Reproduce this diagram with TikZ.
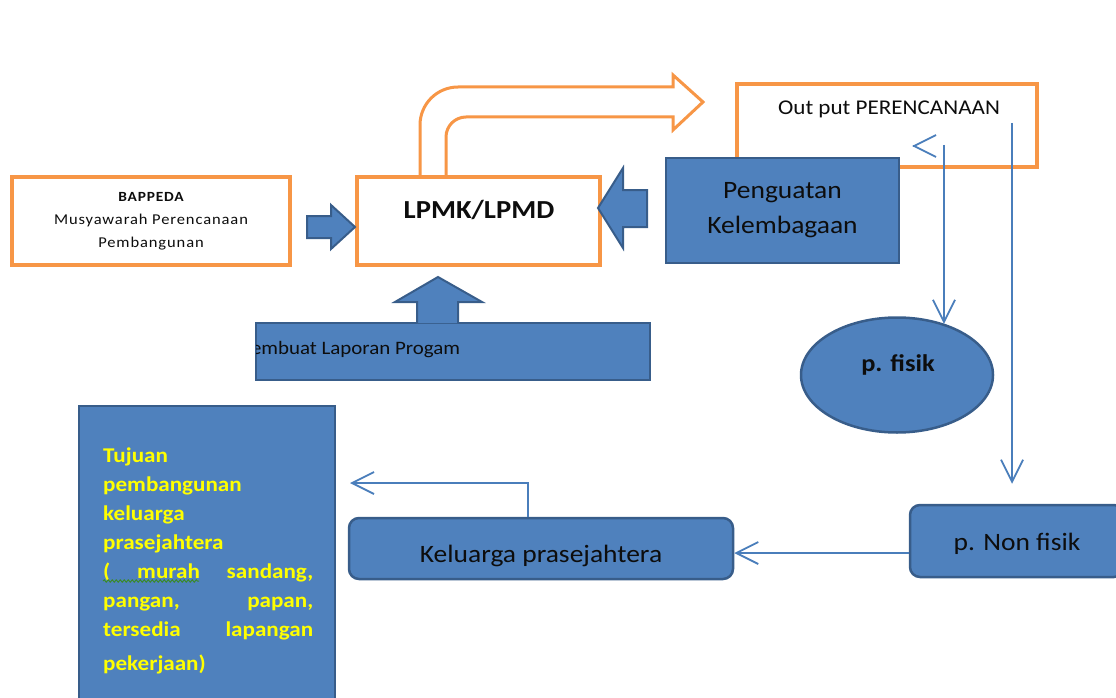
\documentclass[tikz,border=0pt]{standalone}
\usepackage{fontspec}
\setmainfont{Carlito}[FakeStretch=1.1]
\usetikzlibrary{arrows.meta,shapes.geometric,decorations.pathmorphing}
\definecolor{boxblue}{HTML}{4F81BD}
\definecolor{bblue}{HTML}{385D8A}
\definecolor{borange}{HTML}{F79646}
\definecolor{lblue}{HTML}{4A7EBB}
\definecolor{darktext}{HTML}{0D0D0D}
\definecolor{tyellow}{HTML}{FFFF00}
\definecolor{sqgreen}{HTML}{3A8A2A}

\begin{document}
\begin{tikzpicture}[x=1pt,y=-1pt,
  obox/.style={draw=borange, line width=3.5pt, fill=white, inner sep=0pt},
  bbox/.style={draw=bblue, line width=2.5pt, fill=boxblue, inner sep=0pt},
  rbox/.style={bbox, rounded corners=10pt},
  conn/.style={draw=lblue, line width=1.8pt, -{Straight Barb[length=22pt,width=22pt]}},
  barrow/.style={draw=bblue, line width=2pt, fill=boxblue, line join=miter},
  txt/.style={text=darktext, inner sep=0pt}]
\useasboundingbox (0,0) rectangle (1116,698);
\clip (0,0) rectangle (1116,698);

% bent arrow out of LPMK
\draw[draw=borange, line width=3pt, fill=white, line join=miter]
  (420,178) -- (420,125) .. controls (420,104) and (437,87) .. (458,87) -- (673,87) -- (673,75)
  -- (703,102) -- (673,130) -- (673,117) -- (466,117) .. controls (455,117) and (446,126) .. (446,137)
  -- (446,178);

% boxes
\node[obox, minimum width=278pt, minimum height=88pt, align=center,
  text=darktext, font={\fontsize{15}{23}\selectfont\addfontfeatures{LetterSpace=6}}]
  (bappeda) at (151,221)
  {{\bfseries\fontsize{14}{23}\selectfont BAPPEDA}\\Musyawarah Perencanaan\\Pembangunan};

\node[obox, minimum width=243pt, minimum height=88pt] (lpmk) at (478.5,221) {};
\node[txt, anchor=base, font=\bfseries\fontsize{26}{30}\selectfont] (lpmktxt) at (479,218) {LPMK/LPMD};

\node[obox, minimum width=300pt, minimum height=83pt] (output) at (887,125.5) {};
\node[txt, anchor=base, font=\fontsize{21}{25}\selectfont] (outtxt) at (889,115) {Out put PERENCANAAN};

\node[bbox, minimum width=233pt, minimum height=105pt, align=center, text=darktext,
  font=\fontsize{25}{35}\selectfont] (penguatan) at (782.5,210.5) {Penguatan\\Kelembagaan};

\node[bbox, ellipse, minimum width=192pt, minimum height=115pt] (fisik) at (897,375) {};
\node[txt, font=\bfseries\fontsize{24}{28}\selectfont] (fisiktxt) at (898,365) {p. fisik};

\node[bbox, minimum width=394pt, minimum height=57pt] (laporan) at (453,351.5) {};
\begin{scope}
  \clip ([xshift=1.5pt]laporan.south west) rectangle (laporan.north east);
  \node[txt, anchor=base west, font=\fontsize{19}{23}\selectfont] (laptxt) at (233,354) {Membuat Laporan Progam};
\end{scope}

\node[bbox, minimum width=256pt, minimum height=300pt] (tujuan) at (207,556) {};
\node[anchor=north west, inner sep=0pt, text width=212pt, align=left, text=tyellow,
  font=\bfseries\fontsize{21}{29}\selectfont] (tujuantxt) at (103,448)
  {Tujuan\\pembangunan\\keluarga\\prasejahtera\\
   \leavevmode\hbox to 210pt{(\hfill murah\hfill sandang,}\\
   \leavevmode\hbox to 210pt{pangan,\hfill papan,}\\
   \leavevmode\hbox to 210pt{tersedia\hfill lapangan}\\[5pt]
   pekerjaan)};
\draw[sqgreen, line width=1pt, decorate, decoration={snake, amplitude=1.2pt, segment length=4pt}]
  (103,581) -- (199,581);

\node[rbox, minimum width=384pt, minimum height=61pt] (keluarga) at (541,548.5) {};
\node[txt, anchor=base, font=\fontsize{25}{30}\selectfont] (keltxt) at (541,562) {Keluarga prasejahtera};

\node[rbox, minimum width=214pt, minimum height=72pt] (nonfisik) at (1017,541) {};
\node[txt, anchor=base, font=\fontsize{25}{30}\selectfont] (nftxt) at (1017,550) {p. Non fisik};

% block arrows
\draw[barrow] (307,216) -- (331,216) -- (331,205) -- (355,227) -- (331,249) -- (331,238) -- (307,238) -- cycle;
\draw[barrow] (647,190) -- (623,190) -- (623,168) -- (598,208) -- (623,248) -- (623,227) -- (647,227) -- cycle;
\draw[barrow] (417,323) -- (417,302) -- (395,302) -- (438,277) -- (482,302) -- (458,302) -- (458,323);

% thin connectors
\coordinate (fs) at (944,145);
\coordinate (stray) at (913,146);
\coordinate (os) at (1012,123);
\coordinate (kp) at (350,483);
\draw[conn] (fs) -- (fs |- fisik.47);
\draw[conn] (stray) -- ++(-1,0);
\draw[conn, shorten >=20pt] (os) -- (os |- nonfisik.north);
\draw[conn] ([yshift=-12pt]nonfisik.west) -- ([yshift=-4.5pt]keluarga.east);
\draw[conn] ([xshift=-13pt]keluarga.north) |- (kp);
\end{tikzpicture}
\end{document}
